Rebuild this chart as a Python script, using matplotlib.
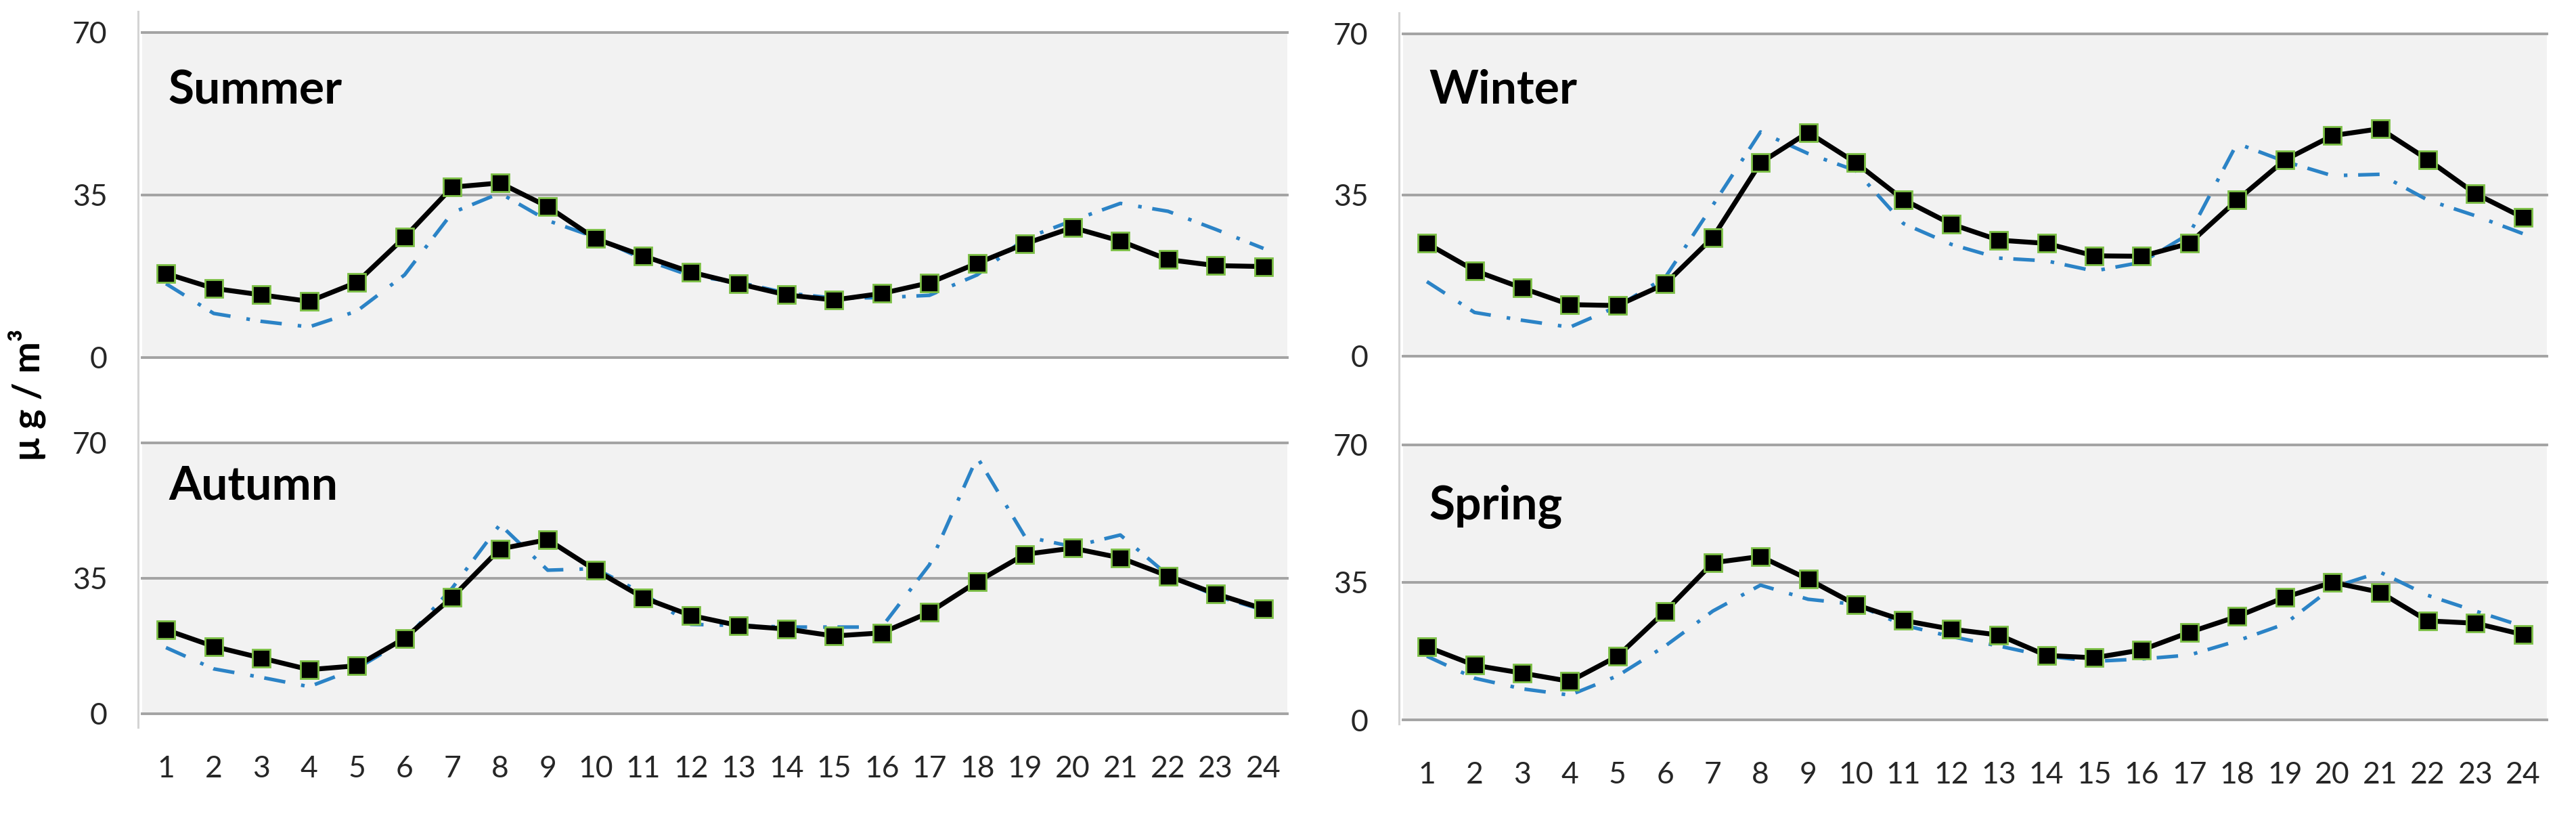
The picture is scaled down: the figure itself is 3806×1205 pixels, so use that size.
import numpy as np
import matplotlib
matplotlib.use("Agg")
import matplotlib.pyplot as plt
from matplotlib.lines import Line2D

plt.rcParams['font.family'] = ['Lato', 'DejaVu Sans']

hours = np.arange(1, 25)

# black line with square markers
summer_main = [18.1, 14.9, 13.5, 12.1, 16.2, 25.9, 36.7, 37.6, 32.5, 25.6, 21.9, 18.4,
               15.9, 13.5, 12.4, 13.8, 16.1, 20.3, 24.5, 28.0, 25.1, 21.1, 19.8, 19.6]
winter_main = [24.5, 18.6, 14.8, 11.2, 11.0, 15.7, 25.8, 42.0, 48.6, 42.0, 34.0, 28.7,
               25.2, 24.5, 21.8, 21.7, 24.5, 33.9, 42.6, 47.9, 49.4, 42.7, 35.3, 30.1]
autumn_main = [21.7, 17.4, 14.4, 11.4, 12.4, 19.5, 30.1, 42.6, 45.0, 37.1, 30.0, 25.4,
               22.8, 21.9, 20.1, 20.9, 26.2, 34.1, 41.2, 42.8, 40.3, 35.6, 31.0, 27.1]
spring_main = [18.6, 13.9, 11.9, 9.8, 16.2, 27.6, 40.0, 41.6, 35.8, 29.3, 25.3, 23.1,
               21.6, 16.4, 15.8, 17.8, 22.3, 26.3, 31.2, 35.0, 32.5, 25.2, 24.6, 21.7]

# blue dash-dot line
summer_alt = [15.9, 9.5, 7.8, 6.6, 10.0, 17.8, 31.2, 35.4, 29.5, 25.9, 21.2, 17.6,
              16.2, 13.9, 12.8, 12.9, 13.4, 17.8, 25.6, 29.5, 33.2, 31.5, 27.6, 23.5]
winter_alt = [16.2, 9.5, 7.8, 6.3, 10.8, 17.1, 32.8, 48.7, 44.0, 40.3, 28.8, 24.3,
              21.3, 20.7, 18.5, 20.4, 26.6, 46.2, 42.3, 39.2, 39.5, 33.9, 30.5, 26.6]
autumn_alt = [17.1, 11.6, 9.4, 7.0, 11.7, 19.0, 32.5, 48.9, 37.1, 37.5, 31.1, 23.1,
              22.8, 22.4, 22.4, 22.4, 38.5, 66.3, 45.8, 43.2, 46.2, 35.8, 30.5, 26.8]
spring_alt = [16.2, 10.6, 7.9, 6.3, 11.2, 18.8, 27.7, 34.3, 30.7, 29.4, 24.1, 21.2,
              18.8, 16.2, 14.9, 15.5, 16.5, 20.1, 24.4, 33.7, 37.6, 31.7, 27.7, 23.8]

W, H = 3806, 1205
fig = plt.figure(figsize=(W / 100, H / 100), dpi=100)


def px_axes(left, right, top, bottom):
    return fig.add_axes([left / W, (H - bottom) / H, (right - left) / W, (bottom - top) / H])


panels = [
    ("Summer", summer_main, summer_alt, (210, 1902, 48, 528), False, 0.78),
    ("Autumn", autumn_main, autumn_alt, (210, 1902, 654, 1054), True, 0.79),
    ("Winter", winter_main, winter_alt, (2073, 3763, 50, 526), False, 0.784),
    ("Spring", spring_main, spring_alt, (2073, 3763, 657, 1063), True, 0.73),
]

for name, main, alt, box, show_x, ty in panels:
    ax = px_axes(*box)
    ax.set_facecolor('#f2f2f2')
    ax.set_xlim(0.5, 24.5)
    ax.set_ylim(0, 70)
    ax.set_yticks([0, 35, 70])
    for v in [0, 35, 70]:
        ax.axhline(v, color='#a3a3a3', lw=2.8, zorder=1, clip_on=False)
    for s in ax.spines.values():
        s.set_visible(False)
    ax.plot(hours, alt, color='#2b83c6', lw=3.8, linestyle=(0, (6, 4.5, 1, 3)), zorder=2)
    ax.plot(hours, main, color='black', lw=5.2, marker='s', markersize=18.5,
            markerfacecolor='black', markeredgecolor='#7cbf45', markeredgewidth=2, zorder=3)
    ax.tick_params(axis='y', length=0, pad=37, labelsize=32, labelcolor='#262626')
    ax.set_xticks(hours)
    if show_x:
        ax.tick_params(axis='x', length=0, pad=44, labelsize=32, labelcolor='#262626')
    else:
        ax.tick_params(axis='x', length=0, labelbottom=False)
    ax.text(0.023, ty, name, transform=ax.transAxes, fontsize=50, fontweight='bold',
            ha='left', va='baseline')

# light vertical axis lines spanning both stacked panels
for x0, y0, y1 in [(204, 17, 1074), (2067, 19, 1069)]:
    fig.add_artist(Line2D([x0 / W, x0 / W], [(H - y0) / H, (H - y1) / H],
                          color='#d4d4d4', lw=2.2))

fig.text(40 / W, (H - 583) / H, 'μ g / m³', rotation=90, fontsize=40,
         fontweight='bold', ha='center', va='center')

fig.savefig('out.png', dpi=100)
